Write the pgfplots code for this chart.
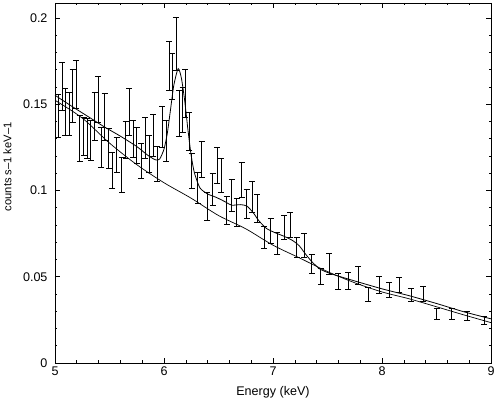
\documentclass[border=0pt]{standalone}
\usepackage{pgfplots}
\pgfplotsset{compat=1.18}
\usepackage{fontspec}
\setmainfont{Liberation Sans}

\begin{document}
\begin{tikzpicture}[x=1bp,y=1bp]
\begin{axis}[
  at={(0,0)}, anchor=south west,
  scale only axis, width=436bp, height=360bp,
  xmin=5, xmax=9, ymin=0, ymax=0.2087,
  xtick={5,6,7,8,9}, xticklabels={5,6,7,8,9},
  ytick={0,0.05,0.1,0.15,0.2}, yticklabels={0,0.05,0.1,0.15,0.2},
  minor x tick num=4, minor y tick num=4,
  tick align=inside, xtick pos=both, ytick pos=both,
  major tick length=5bp, minor tick length=2.5bp,
  tick style={black, line width=0.6bp},
  axis line style={line width=0.8bp},
  ticklabel style={font=\fontsize{12.6}{14}\selectfont},
  yticklabel style={xshift=-4bp},
  xlabel={Energy (keV)}, ylabel={counts s--1 keV--1},
  xlabel style={at={(axis description cs:0.5,-0.0806)}, anchor=center,
    font=\fontsize{12.6}{14}\selectfont},
  ylabel style={at={(axis description cs:-0.1094,0.545)}, anchor=center,
    font=\fontsize{11.2}{13}\selectfont},
]
% binned spectrum with 1-sigma errors
\addplot[draw=none, mark=none,
  error bars/.cd, y dir=both, y explicit,
  error bar style={draw=black, line width=0.6bp},
  error mark options={draw=black, rotate=90, mark size=3bp, line width=0.6bp}]
table[x=E, y=c, y error=e]{
E     c      e
5.028 0.1433 0.0125
5.064 0.1605 0.0140
5.094 0.1456 0.0137
5.128 0.1445 0.0125
5.162 0.1549 0.0154
5.193 0.1616 0.0140
5.227 0.1302 0.0134
5.263 0.1314 0.0110
5.294 0.1302 0.0116
5.326 0.1290 0.0116
5.364 0.1430 0.0140
5.394 0.1529 0.0134
5.425 0.1250 0.0116
5.456 0.1427 0.0137
5.491 0.1244 0.0116
5.526 0.1116 0.0105
5.566 0.1206 0.0102
5.612 0.1090 0.0102
5.647 0.1294 0.0108
5.682 0.1456 0.0137
5.716 0.1299 0.0108
5.750 0.1262 0.0105
5.789 0.1172 0.0102
5.826 0.1305 0.0119
5.865 0.1212 0.0108
5.902 0.1320 0.0122
5.940 0.1154 0.0102
5.982 0.1369 0.0119
6.018 0.1288 0.0119
6.049 0.1724 0.0143
6.073 0.1663 0.0134
6.110 0.1852 0.0154
6.138 0.1448 0.0134
6.172 0.1468 0.0131
6.193 0.1564 0.0140
6.232 0.1343 0.0110
6.254 0.1113 0.0102
6.309 0.1015 0.0090
6.346 0.1180 0.0105
6.397 0.0907 0.0081
6.445 0.1006 0.0093
6.489 0.1145 0.0105
6.523 0.1087 0.0099
6.575 0.0884 0.0081
6.621 0.0971 0.0093
6.667 0.0872 0.0081
6.713 0.1061 0.0102
6.759 0.0922 0.0084
6.810 0.0962 0.0090
6.856 0.0895 0.0081
6.917 0.0727 0.0064
6.979 0.0765 0.0073
7.041 0.0692 0.0064
7.101 0.0785 0.0070
7.156 0.0800 0.0073
7.217 0.0669 0.0058
7.284 0.0680 0.0070
7.355 0.0573 0.0055
7.438 0.0503 0.0044
7.517 0.0573 0.0061
7.599 0.0474 0.0044
7.691 0.0477 0.0047
7.783 0.0509 0.0050
7.874 0.0398 0.0038
7.975 0.0453 0.0047
8.067 0.0422 0.0044
8.159 0.0451 0.0044
8.266 0.0393 0.0038
8.379 0.0401 0.0041
8.502 0.0288 0.0032
8.639 0.0288 0.0032
8.783 0.0276 0.0026
8.939 0.0250 0.0023
};
% continuum
\addplot[black, line width=0.7bp, smooth, tension=0.5, no markers] coordinates {
(5.00,0.1523) (5.25,0.1420) (5.50,0.1275) (5.75,0.1150) (6.00,0.1045)
(6.25,0.0955) (6.50,0.0855) (6.75,0.0778) (7.00,0.0683) (7.25,0.0607)
(7.50,0.0530) (7.75,0.0465) (8.00,0.0412) (8.25,0.0372) (8.50,0.0326)
(8.75,0.0279) (9.00,0.0234)
};
% continuum + lines
\addplot[black, line width=0.8bp, smooth, tension=0.4, no markers] coordinates {
(5.00,0.1552) (5.15,0.1490) (5.30,0.1430) (5.45,0.1370) (5.60,0.1315)
(5.75,0.1255) (5.85,0.1205) (5.92,0.1178) (5.96,0.1182) (6.00,0.1240)
(6.03,0.1330) (6.06,0.1470) (6.09,0.1610) (6.13,0.1707) (6.16,0.1650)
(6.19,0.1520) (6.22,0.1350) (6.25,0.1200) (6.28,0.1100) (6.33,0.1015)
(6.40,0.0980) (6.48,0.0960) (6.56,0.0935) (6.62,0.0915) (6.70,0.0918)
(6.76,0.0910) (6.82,0.0870) (6.87,0.0825) (6.94,0.0780) (7.02,0.0755)
(7.10,0.0735) (7.18,0.0710) (7.24,0.0680) (7.30,0.0630) (7.36,0.0585)
(7.43,0.0545) (7.52,0.0520) (7.62,0.0500) (7.78,0.0470) (8.00,0.0430)
(8.25,0.0390) (8.50,0.0345) (8.75,0.0297) (9.00,0.0256)
};
\end{axis}
\pgfresetboundingbox
\useasboundingbox (-55bp,-36bp) rectangle (443bp,363bp);
\end{tikzpicture}
\end{document}
